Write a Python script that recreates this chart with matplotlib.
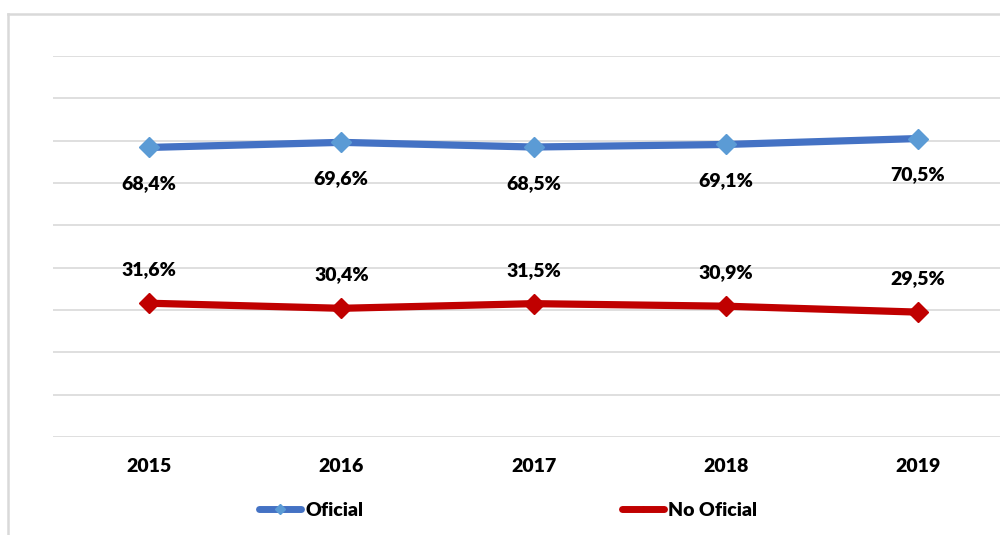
import matplotlib.pyplot as plt
from matplotlib.lines import Line2D

years = ['2015', '2016', '2017', '2018', '2019']
oficial = [68.4, 69.6, 68.5, 69.1, 70.5]
no_oficial = [31.6, 30.4, 31.5, 30.9, 29.5]

blue = '#4472C4'
blue_mk = '#5B9BD5'
red = '#C00000'

plt.rcParams['font.family'] = ['Lato', 'DejaVu Sans']
FS = 14
FW = 'heavy'

W, H = 1000, 535
fig = plt.figure(figsize=(W / 100, H / 100), dpi=100)

# chart frame (only left and top edges visible)
fig.add_artist(Line2D([8 / W, 8 / W], [0, 1 - 14 / H], color='#d9d9d9', lw=1.8))
fig.add_artist(Line2D([8 / W, 1], [1 - 14 / H, 1 - 14 / H], color='#d9d9d9', lw=1.8))

ax = fig.add_axes([53 / W, (H - 437) / H, 961 / W, 381 / H])
x = range(len(years))

ax.plot(x, oficial, color=blue, lw=5.2, marker='D', ms=10,
        mfc=blue_mk, mec=blue_mk, solid_capstyle='round')
ax.plot(x, no_oficial, color=red, lw=5.2, marker='D', ms=10,
        mfc=red, mec=red, solid_capstyle='round')

for i, v in enumerate(oficial):
    ax.annotate(f'{v:.1f}%'.replace('.', ','), (i, v), xytext=(0, -26),
                textcoords='offset points', ha='center', va='center',
                fontsize=FS, fontweight=FW)
for i, v in enumerate(no_oficial):
    ax.annotate(f'{v:.1f}%'.replace('.', ','), (i, v), xytext=(0, 24),
                textcoords='offset points', ha='center', va='center',
                fontsize=FS, fontweight=FW)

ax.set_xlim(-0.5, 4.5)
ax.set_ylim(0, 90)
ax.set_yticks(range(0, 91, 10))
ax.yaxis.grid(True, color='#d9d9d9', lw=1.2)
ax.set_axisbelow(True)
ax.set_yticklabels([])
ax.tick_params(axis='y', length=0)
ax.tick_params(axis='x', length=0, pad=15)
ax.set_xticks(list(x))
ax.set_xticklabels(years, fontsize=FS, fontweight=FW)
for s in ax.spines.values():
    s.set_visible(False)

handles = [
    Line2D([], [], color=blue, lw=5, marker='D', ms=5, mfc=blue_mk, mec=blue_mk,
           solid_capstyle='round'),
    Line2D([], [], color=red, lw=5, marker='D', ms=3, mfc=red, mec=red,
           solid_capstyle='round'),
]
fig.legend(handles, ['Oficial', 'No Oficial'], loc='center',
           bbox_to_anchor=(508 / W, 1 - 510 / H), ncol=2, frameon=False,
           handlelength=2.15, handletextpad=0.2, columnspacing=13.3,
           prop={'size': FS, 'weight': FW})

fig.savefig('out.png', dpi=100)
